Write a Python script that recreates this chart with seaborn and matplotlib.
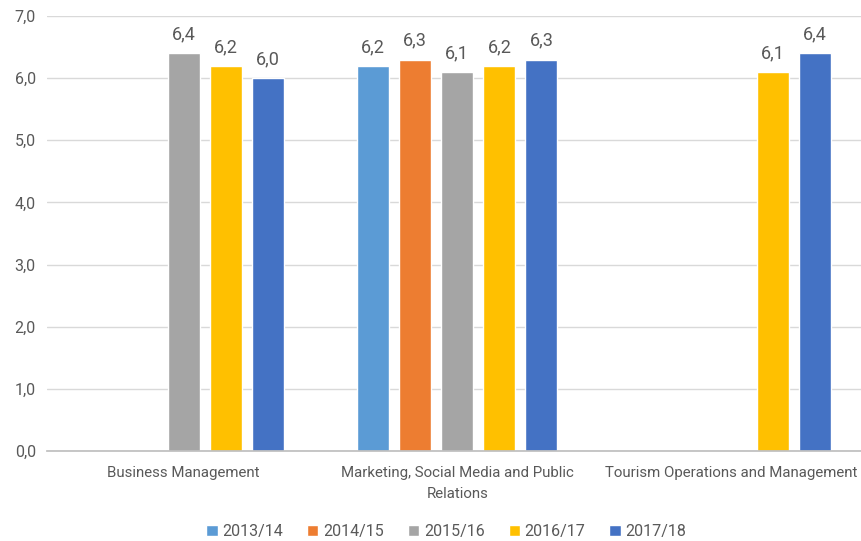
import matplotlib
matplotlib.use("Agg")
import matplotlib.pyplot as plt
import seaborn as sns
import pandas as pd

programmes = ["Business Management",
              "Marketing, Social Media and Public\nRelations",
              "Tourism Operations and Management"]
years = ["2013/14", "2014/15", "2015/16", "2016/17", "2017/18"]
business = [None, None, 6.4, 6.2, 6.0]
marketing = [6.2, 6.3, 6.1, 6.2, 6.3]
tourism = [None, None, None, 6.1, 6.4]
colors = ["#5B9BD5", "#ED7D31", "#A5A5A5", "#FFC000", "#4472C4"]

rows = []
for prog, vals in zip(programmes, [business, marketing, tourism]):
    for yr, v in zip(years, vals):
        if v is not None:
            rows.append({"programme": prog, "year": yr, "score": v})
df = pd.DataFrame(rows)

sns.set_theme(style="white")
plt.rcParams["font.family"] = ["Roboto", "DejaVu Sans"]
txt = "#595959"

fig = plt.figure(figsize=(8.62, 5.41), dpi=100)
ax = fig.add_axes([0.0545, 0.1664, 0.9455, 0.804])

sns.barplot(data=df, x="programme", y="score", hue="year",
            order=programmes, hue_order=years, palette=colors,
            width=0.77, gap=0.24, saturation=1, ax=ax, legend=True)

for c in ax.containers:
    ax.bar_label(c, labels=[f"{v:.1f}".replace(".", ",") for v in c.datavalues],
                 padding=7, fontsize=13, color=txt)

ax.set_ylim(0, 7)
ax.set_xlim(-0.5, 2.48)
ax.set_yticks(range(0, 8))
ax.set_yticklabels([f"{i},0" for i in range(0, 8)], fontsize=11.5, color=txt)
ax.tick_params(axis="x", labelsize=10.8, colors=txt, length=0, pad=11)
ax.tick_params(axis="y", length=0, pad=8)
for lab in ax.get_xticklabels():
    lab.set_linespacing(1.6)
ax.set_xlabel("")
ax.set_ylabel("")
ax.grid(axis="y", color="#D9D9D9", linewidth=1)
ax.set_axisbelow(True)
for s in ["top", "right", "left"]:
    ax.spines[s].set_visible(False)
ax.spines["bottom"].set_color("#BFBFBF")

leg = ax.legend(loc="lower center", bbox_to_anchor=(0.49, -0.235), ncol=5,
                frameon=False, fontsize=11.5, handlelength=0.7, handleheight=0.7,
                handletextpad=0.3, columnspacing=1.5)
for t in leg.get_texts():
    t.set_color(txt)

fig.savefig("out.png", dpi=100)
